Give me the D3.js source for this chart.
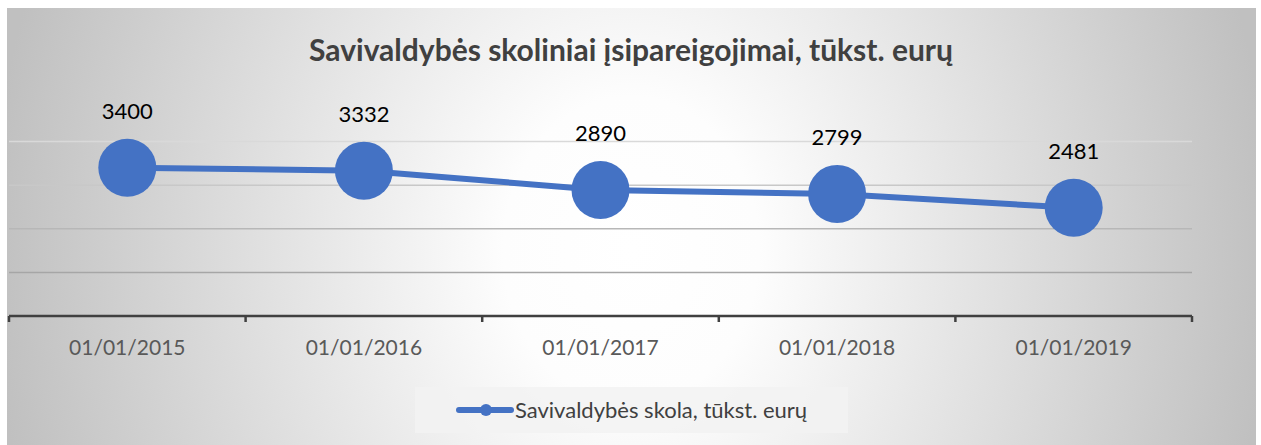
<!DOCTYPE html>
<html>
<meta charset="utf-8">
<title>Savivaldybės skoliniai įsipareigojimai</title>
<style>
	body {
		margin: 0;
		background: #fff;
	}

	text {
		font-family: Lato, "Open Sans", sans-serif;
	}

	.title {
		font-weight: bold;
		fill: #404040;
	}

	.tick text {
		fill: #595959;
	}

	.label {
		fill: #000;
	}
</style>

<body>
	<svg id="chart" width="1261" height="445"></svg>

	<script src="https://cdnjs.cloudflare.com/ajax/libs/d3/7.8.5/d3.min.js"></script>
	<script>
		// chart data
		var dates = ["01/01/2015", "01/01/2016", "01/01/2017", "01/01/2018", "01/01/2019"];
		var debt = [3400, 3332, 2890, 2799, 2481];
		var yTicks = [0, 1000, 2000, 3000, 4000];
		var seriesName = "Savivaldybės skola, tūkst. eurų";
		var titleText = "Savivaldybės skoliniai įsipareigojimai, tūkst. eurų";

		var svg = d3.select("#chart");

		// background: white in the middle, grey towards the sides
		var defs = svg.append("defs");
		var grad = defs.append("radialGradient")
			.attr("id", "bg")
			.attr("gradientUnits", "userSpaceOnUse")
			.attr("cx", 631).attr("cy", 250).attr("r", 640)
			.attr("gradientTransform", "translate(631,250) scale(1,1.2) translate(-631,-250)");
		grad.append("stop").attr("offset", "0").attr("stop-color", "#ffffff");
		grad.append("stop").attr("offset", "0.2").attr("stop-color", "#fdfdfd");
		grad.append("stop").attr("offset", "1").attr("stop-color", "#c0c0c0");

		// chart area
		svg.append("rect")
			.attr("x", 7).attr("y", 8)
			.attr("width", 1249).attr("height", 437)
			.attr("fill", "url(#bg)");

		var plot = { left: 9, right: 1192, top: 141.5, bottom: 316 };

		var x = d3.scaleBand()
			.domain(dates)
			.range([plot.left, plot.right])
			.padding(0);

		var y = d3.scaleLinear()
			.domain([0, 4000])
			.range([plot.bottom, plot.top]);

		var gridColor = d3.scaleLinear()
			.domain([1000, 4000])
			.range(["#a6a6a6", "#d9d9d9"]);

		// gridlines
		svg.append("g")
			.selectAll("line")
			.data(yTicks.filter(function (d) { return d > 0; }))
			.enter().append("line")
			.attr("x1", plot.left)
			.attr("x2", plot.right)
			.attr("y1", function (d) { return y(d); })
			.attr("y2", function (d) { return y(d); })
			.attr("stroke", function (d) { return gridColor(d); })
			.attr("stroke-width", 1.5);

		// x axis
		var xAxis = svg.append("g")
			.attr("transform", "translate(0," + plot.bottom + ")");

		xAxis.append("line")
			.attr("x1", plot.left).attr("x2", plot.right)
			.attr("stroke", "#404040")
			.attr("stroke-width", 2.5);

		var bounds = dates.map(function (d) { return x(d); }).concat([plot.right]);
		xAxis.selectAll(".tk")
			.data(bounds)
			.enter().append("line")
			.attr("class", "tk")
			.attr("x1", function (d) { return d; })
			.attr("x2", function (d) { return d; })
			.attr("y1", 0).attr("y2", 6)
			.attr("stroke", "#404040")
			.attr("stroke-width", 2.5);

		xAxis.selectAll(".tick")
			.data(dates)
			.enter().append("g")
			.attr("class", "tick")
			.append("text")
			.attr("x", function (d) { return x(d) + x.bandwidth() / 2; })
			.attr("y", 39)
			.attr("text-anchor", "middle")
			.style("font-size", "21px")
			.text(function (d) { return d; });

		// line + markers
		var cx = function (d, i) { return x(dates[i]) + x.bandwidth() / 2; };

		var line = d3.line()
			.x(function (d, i) { return cx(d, i); })
			.y(function (d) { return y(d); });

		svg.append("path")
			.datum(debt)
			.attr("d", line)
			.attr("fill", "none")
			.attr("stroke", "#4472c4")
			.attr("stroke-width", 6)
			.attr("stroke-linejoin", "round");

		svg.append("g")
			.selectAll("circle")
			.data(debt)
			.enter().append("circle")
			.attr("cx", cx)
			.attr("cy", function (d) { return y(d); })
			.attr("r", 29)
			.attr("fill", "#4472c4");

		svg.append("g")
			.selectAll("text")
			.data(debt)
			.enter().append("text")
			.attr("class", "label")
			.attr("x", cx)
			.attr("y", function (d) { return y(d) - 49; })
			.attr("text-anchor", "middle")
			.style("font-size", "22px")
			.text(function (d) { return d; });

		// title
		svg.append("text")
			.attr("class", "title")
			.attr("x", 631)
			.attr("y", 61)
			.attr("text-anchor", "middle")
			.style("font-size", "30px")
			.text(titleText);

		// legend
		var legend = svg.append("g");
		legend.append("rect")
			.attr("x", 415).attr("y", 387)
			.attr("width", 433).attr("height", 46)
			.attr("fill", "#f2f2f2")
			.attr("fill-opacity", 0.85);
		legend.append("line")
			.attr("x1", 459).attr("x2", 511)
			.attr("y1", 410).attr("y2", 410)
			.attr("stroke", "#4472c4")
			.attr("stroke-width", 6)
			.attr("stroke-linecap", "round");
		legend.append("circle")
			.attr("cx", 486).attr("cy", 410).attr("r", 6)
			.attr("fill", "#4472c4");
		legend.append("text")
			.attr("x", 515)
			.attr("y", 418)
			.style("font-size", "22px")
			.style("fill", "#404040")
			.text(seriesName);
	</script>
</body>

</html>
